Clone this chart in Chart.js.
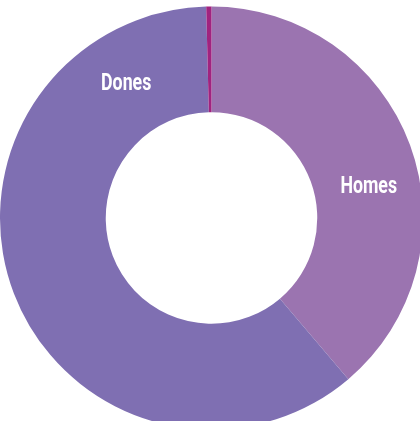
<!DOCTYPE html>
<html>
<head>
<meta charset="utf-8">
<script src="https://cdn.jsdelivr.net/npm/chart.js@4.4.0/dist/chart.umd.min.js"></script>
<style>
  html, body { margin: 0; padding: 0; background: #ffffff; overflow: hidden; }
  #wrap { position: absolute; left: 0; top: 0; width: 423px; height: 436px; }
</style>
</head>
<body>
<div id="wrap"><canvas id="chart"></canvas></div>
<script>
// Dades
const categories = ['Homes', 'Dones', 'Altres'];
const values = [38.8, 60.8, 0.4];
const colors = ['#9b74b0', '#7f6fb2', '#a1237f'];
const showLabel = [true, true, false];
// on es col·loca l'etiqueta dins de cada sector (fracció de l'angle)
const labelFraction = [0.56, 0.86, 0.5];

const labelPlugin = {
  id: 'sliceLabels',
  afterDatasetsDraw(chart) {
    const ctx = chart.ctx;
    const meta = chart.getDatasetMeta(0);
    meta.data.forEach((arc, i) => {
      if (!showLabel[i]) return;
      const p = arc.getProps(['x', 'y', 'startAngle', 'endAngle', 'innerRadius', 'outerRadius']);
      const a = p.startAngle + (p.endAngle - p.startAngle) * labelFraction[i];
      const r = (p.innerRadius + p.outerRadius) / 2 + 2;
      const x = p.x + Math.cos(a) * r;
      const y = p.y + Math.sin(a) * r + 2;
      ctx.save();
      ctx.translate(x, y);
      ctx.scale(0.74, 1);
      ctx.fillStyle = '#ffffff';
      ctx.font = 'bold 24px Roboto, sans-serif';
      ctx.textAlign = 'center';
      ctx.textBaseline = 'middle';
      ctx.fillText(categories[i], 0, 0);
      ctx.restore();
    });
  }
};

new Chart(document.getElementById('chart'), {
  type: 'doughnut',
  data: {
    labels: categories,
    datasets: [{
      data: values,
      backgroundColor: colors,
      borderWidth: 0,
      hoverOffset: 0,
      offset: 0
    }]
  },
  options: {
    responsive: true,
    maintainAspectRatio: false,
    animation: false,
    cutout: '50%',
    layout: { padding: 0 },
    plugins: {
      legend: { display: false },
      tooltip: { enabled: false }
    }
  },
  plugins: [labelPlugin]
});
</script>
</body>
</html>
